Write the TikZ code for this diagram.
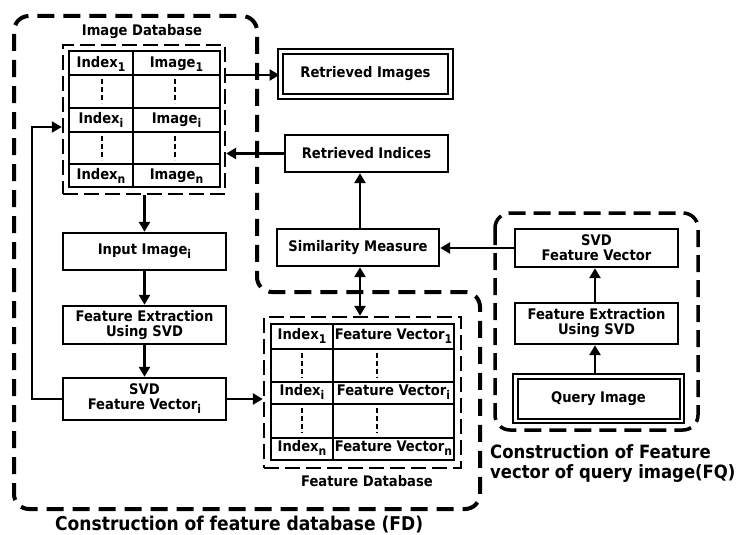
\documentclass[tikz,border=0pt]{standalone}
\usepackage{fontspec}
\setmainfont{DejaVu Sans Condensed}
\usetikzlibrary{arrows.meta}
\newcommand{\sbs}[1]{\raisebox{-4pt}{\fontsize{12}{12}\selectfont #1}}
\begin{document}
\begin{tikzpicture}[x=1pt,y=-1pt,
  every node/.style={font=\fontsize{14.6}{15}\selectfont\bfseries, inner sep=0pt, align=center},
  box/.style={draw, line width=2.4pt, minimum width=#1},
  box/.default=163pt,
  dbox/.style={draw, line width=2pt, double, double distance=2.5pt},
  arr/.style={line width=2.5pt, -{Triangle[length=10pt,width=11pt]}},
  darr/.style={line width=2.5pt, {Triangle[length=10pt,width=11pt]}-{Triangle[length=10pt,width=11pt]}},
  bigdash/.style={line width=4pt, dash pattern=on 17pt off 9pt, rounded corners=15pt},
  meddash/.style={line width=3.5pt, dash pattern=on 17pt off 8pt, rounded corners=15pt},
  smalldash/.style={draw, line width=2.4pt, dash pattern=on 15pt off 6pt},
  tline/.style={line width=2.2pt},
  tdots/.style={line width=2.5pt, dash pattern=on 5pt off 3pt},
  biglabel/.style={font=\fontsize{19}{20}\selectfont\bfseries},
  fqlabelstyle/.style={font=\fontsize{18.3}{20}\selectfont\bfseries}
]
\useasboundingbox (0,0) rectangle (736,535);

% ---------- FD region ----------
\draw[bigdash] (14,300) -- (14,16) -- (257,16) -- (257,292) -- (480,292) -- (480,509) -- (14,509) -- cycle;
\node[biglabel, anchor=base west] (fdlabel) at (55,530) {Construction of feature database (FD)};

% ---------- Image database ----------
\node (imgdblabel) at (142,32) {Image Database};
\node[smalldash, minimum width=162pt, minimum height=149pt] (imgdb) at (144,119.5) {};
\draw[tline] (69,51) rectangle (220,187);
\draw[tline] (133,51) -- (133,187);
\foreach \yy in {75,108,132,164} \draw[tline] (69,\yy) -- (220,\yy);
\node (i1) at (101,64) {Index\sbs{1}};
\node (m1) at (176.5,64) {Image\sbs{1}};
\node (ii) at (101,120) {Index\sbs{i}};
\node (mi) at (176.5,120) {Image\sbs{i}};
\node (in) at (101,176) {Index\sbs{n}};
\node (mn) at (176.5,176) {Image\sbs{n}};
\draw[tdots] (102,79) -- (102,103);
\draw[tdots] (175,79) -- (175,103);
\draw[tdots] (102,136) -- (102,160);
\draw[tdots] (175,136) -- (175,160);

% ---------- left chain ----------
\node[box, minimum height=37pt] (input) at (144.5,251.5) {Input Image\sbs{i}};
\node[box, minimum height=38pt] (fe1) at (144.5,325) {Feature Extraction\\Using SVD};
\node[box, minimum height=42pt] (svdi) at (144.5,399) {SVD\\Feature Vector\sbs{i}};

% ---------- right-top ----------
\node[dbox, minimum width=170pt, minimum height=45pt] (retimg) at (365.5,74) {Retrieved Images};
\node[box, minimum height=37pt] (retind) at (366.5,153.5) {Retrieved Indices};
\node[box, minimum width=162pt, minimum height=37pt] (sim) at (358,247.5) {Similarity Measure};

% ---------- Feature database ----------
\node[smalldash, minimum width=197pt, minimum height=151pt] (fdb) at (362.5,392.5) {};
\draw[tline] (271,324) rectangle (454,460);
\draw[tline] (333,324) -- (333,460);
\foreach \yy in {349,382,404,438} \draw[tline] (271,\yy) -- (454,\yy);
\node (fi1) at (302,336) {Index\sbs{1}};
\node (fv1) at (393.5,336) {Feature Vector\sbs{1}};
\node (fii) at (302,392) {Index\sbs{i}};
\node (fvi) at (393.5,392) {Feature Vector\sbs{i}};
\node (fin) at (302,448) {Index\sbs{n}};
\node (fvn) at (393.5,448) {Feature Vector\sbs{n}};
\draw[tdots] (302,353) -- (302,378);
\draw[tdots] (377,353) -- (377,378);
\draw[tdots] (302,408) -- (302,433);
\draw[tdots] (377,408) -- (377,433);
\node (fdblabel) at (367,481) {Feature Database};

% ---------- FQ region ----------
\draw[meddash] (495,213) rectangle (698,430);
\node[box, minimum height=38pt] (svdq) at (596.5,248) {SVD\\Feature Vector};
\node[box, minimum height=41pt] (feq) at (596.5,323.5) {Feature Extraction\\Using SVD};
\node[dbox, minimum width=166.5pt, minimum height=44.5pt] (query) at (598.5,398.5) {Query Image};
\node[fqlabelstyle, anchor=base west] (fqlabel1) at (490,458) {Construction of Feature};
\node[fqlabelstyle, anchor=base west] (fqlabel2) at (490,478) {vector of query image(FQ)};

% ---------- connectors ----------
\draw[arr] (imgdb.east |- 0,75) -- (retimg.west |- 0,75);
\draw[arr] (retind.west) -- (retind.west -| imgdb.east);
\draw[arr] (imgdb.south -| input.north) -- (input.north);
\draw[arr] (input.south) -- (fe1.north);
\draw[arr] (fe1.south) -- (svdi.north);
\coordinate (fbk) at (32,127);
\draw[arr, line width=2pt] (svdi.west) -| (fbk) -- (fbk -| imgdb.west);
\draw[arr] (svdi.east) -- (svdi.east -| fdb.west);
\draw[arr] (sim.north -| 360,0) -- (retind.south -| 360,0);
\draw[darr] (sim.south -| 360,0) -- (fdb.north -| 360,0);
\draw[arr] (svdq.west) -- (svdq.west -| sim.east);
\draw[arr] (feq.north -| 595,0) -- (svdq.south -| 595,0);
\draw[arr] (query.north -| 595,0) -- (feq.south -| 595,0);
\end{tikzpicture}
\end{document}
